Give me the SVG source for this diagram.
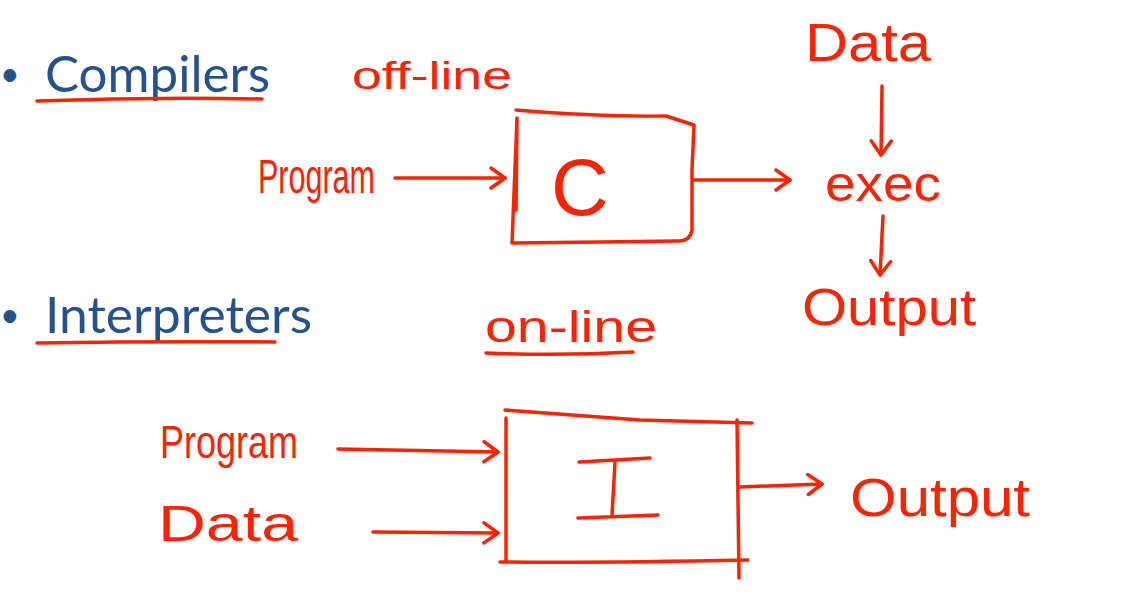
<svg xmlns="http://www.w3.org/2000/svg" width="1147" height="611" viewBox="0 0 1147 611">
<defs>
<style>
.bul{font-family:Lato,"Open Sans",sans-serif;fill:#24528f}
.hw{font-family:"Liberation Sans",Arial,sans-serif;fill:#ff2200}
.ln{fill:none;stroke:#ff2200;stroke-width:3.5;stroke-linecap:round;stroke-linejoin:round}
</style>
<marker id="ah" viewBox="0 0 24 24" refX="20" refY="12" markerWidth="24" markerHeight="24" markerUnits="userSpaceOnUse" orient="auto">
<path d="M6,2 L20,12 L6,22" fill="none" stroke="#ff2200" stroke-width="3.5" stroke-linecap="round" stroke-linejoin="round"/>
</marker>
</defs>
<rect width="1147" height="611" fill="#ffffff"/>
<g id="heading-compilers">
<text class="bul" x="0" y="86" font-size="34">•</text>
<text class="bul" x="45" y="92" font-size="50" textLength="225" lengthAdjust="spacingAndGlyphs">Compilers</text>
<path class="ln" d="M37,101 Q150,97 262,99"/>
</g>
<g id="heading-interpreters">
<text class="bul" x="0" y="327" font-size="34">•</text>
<text class="bul" x="45" y="333" font-size="50" textLength="267" lengthAdjust="spacingAndGlyphs">Interpreters</text>
<path class="ln" d="M37,343 Q160,341 275,342"/>
</g>
<g id="label-offline">
<text class="hw" x="352" y="89" font-size="38" textLength="160" lengthAdjust="spacingAndGlyphs">off-line</text>
</g>
<g id="label-online">
<text class="hw" x="485" y="342" font-size="44" textLength="172" lengthAdjust="spacingAndGlyphs">on-line</text>
<path class="ln" d="M486,353 Q560,356 633,352"/>
</g>
<g id="node-program-c">
<text class="hw" x="258" y="193" font-size="48" textLength="117" lengthAdjust="spacingAndGlyphs">Program</text>
</g>
<g id="node-compiler">
<path class="ln" d="M516,110 Q600,117 666,116 L694,125 L692,170 L692,230 Q690,242 676,241 L600,242 L512,243 L517,118 L516,210"/>
<text class="hw" x="551" y="215" font-size="80">C</text>
</g>
<g id="node-data-c">
<text class="hw" x="805" y="61" font-size="54" textLength="126" lengthAdjust="spacingAndGlyphs">Data</text>
</g>
<g id="node-exec">
<text class="hw" x="825" y="201" font-size="50" textLength="116" lengthAdjust="spacingAndGlyphs">exec</text>
</g>
<g id="node-output-c">
<text class="hw" x="802" y="325" font-size="52" textLength="174" lengthAdjust="spacingAndGlyphs">Output</text>
</g>
<g id="node-program-i">
<text class="hw" x="160" y="458" font-size="46" textLength="138" lengthAdjust="spacingAndGlyphs">Program</text>
</g>
<g id="node-data-i">
<text class="hw" x="158" y="541" font-size="50" textLength="140" lengthAdjust="spacingAndGlyphs">Data</text>
</g>
<g id="node-interpreter">
<path class="ln" d="M505,410 Q560,414 640,420 L752,423"/>
<path class="ln" d="M506,418 L506,560"/>
<path class="ln" d="M737,420 L739,578"/>
<path class="ln" d="M500,562 Q600,563 748,560"/>
<path class="ln" d="M579,462 L650,458 M615,462 L612,515 M578,518 L658,515"/>
</g>
<g id="node-output-i">
<text class="hw" x="850" y="516" font-size="54" textLength="180" lengthAdjust="spacingAndGlyphs">Output</text>
</g>
<g id="connectors">
<path class="ln" d="M395,178 L505,178" marker-end="url(#ah)"/>
<path class="ln" d="M693,180 L790,180" marker-end="url(#ah)"/>
<path class="ln" d="M882,86 L881,155" marker-end="url(#ah)"/>
<path class="ln" d="M883,216 L880,275" marker-end="url(#ah)"/>
<path class="ln" d="M338,449 L498,452" marker-end="url(#ah)"/>
<path class="ln" d="M373,532 L498,533" marker-end="url(#ah)"/>
<path class="ln" d="M740,487 L822,484" marker-end="url(#ah)"/>
</g>
</svg>
